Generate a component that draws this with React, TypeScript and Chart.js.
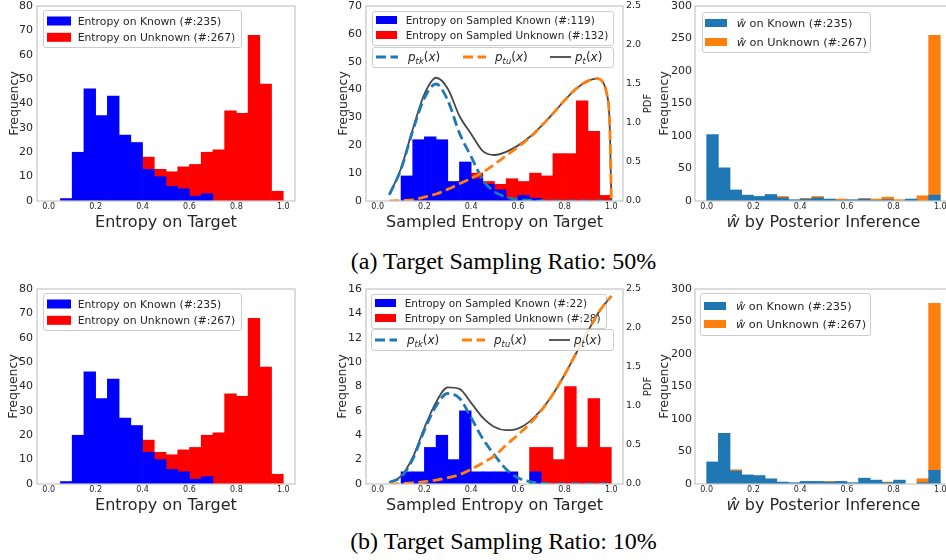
import React, { useEffect, useRef } from 'react';
import { Chart, registerables } from 'chart.js';

Chart.register(...registerables);
Chart.defaults.font.family = '"DejaVu Sans", sans-serif';
Chart.defaults.color = '#262626';

// ---------------- data ----------------
const binCenters = [0.025, 0.075, 0.125, 0.175, 0.225, 0.275, 0.325, 0.375, 0.425, 0.475, 0.525, 0.575, 0.625, 0.675, 0.725, 0.775, 0.825, 0.875, 0.925, 0.975];
const xTickValues = [0, 0.2, 0.4, 0.6, 0.8, 1.0];

// (a) 50%
const entropyKnown = [0, 1, 20, 46, 35, 43, 27, 24, 13, 10, 6, 5, 2, 3, 0, 0, 0, 0, 0, 0];
const entropyUnknown = [0, 0, 0, 0, 0, 0, 0, 0, 5, 3, 6, 9, 13, 17, 21, 37, 36, 68, 48, 4];
const sampledKnown50 = [0, 0, 9, 22, 23, 22, 7, 14, 8, 6, 4, 1, 2, 1, 0, 0, 0, 0, 0, 0];
const sampledUnknown50 = [0, 0, 0, 0, 0, 0, 0, 0, 2, 1, 2, 7, 5, 9, 9, 17, 17, 36, 25, 2];
const wKnown50 = [102, 51, 17, 9, 7, 10, 5, 2, 3, 5, 3, 1, 2, 3, 1, 2, 0, 3, 0, 9];
const wUnknown50 = [0, 0, 0, 0, 0, 0, 2, 0, 1, 2, 0, 2, 0, 1, 2, 4, 2, 0, 8, 246];

const pdfX50 = [0.05, 0.1, 0.15, 0.2, 0.25, 0.3, 0.35, 0.4, 0.45, 0.5, 0.55, 0.6, 0.65, 0.7, 0.75, 0.8, 0.85, 0.9, 0.94, 0.97, 0.98, 0.99, 0.995, 1.0];
const ptk50 = [0.08, 0.41, 0.9, 1.32, 1.5, 1.29, 0.87, 0.57, 0.27, 0.12, 0.05, 0.02, 0.01, 0, 0, 0, 0, 0, 0, 0, 0, 0, 0, 0];
const ptu50 = [0, 0.005, 0.015, 0.05, 0.09, 0.15, 0.22, 0.29, 0.37, 0.47, 0.58, 0.69, 0.81, 0.96, 1.12, 1.29, 1.44, 1.54, 1.57, 1.49, 1.38, 1.17, 0.78, 0];
const pt50 = [0.08, 0.42, 0.92, 1.37, 1.58, 1.44, 1.09, 0.86, 0.64, 0.59, 0.63, 0.71, 0.82, 0.96, 1.12, 1.29, 1.44, 1.54, 1.57, 1.49, 1.38, 1.17, 0.78, 0];

// (b) 10%
const sampledKnown10 = [0, 0, 1, 1, 3, 4, 2, 6, 1, 1, 1, 1, 0, 1, 0, 0, 0, 0, 0, 0];
const sampledUnknown10 = [0, 0, 0, 0, 0, 0, 0, 0, 0, 0, 0, 0, 0, 2, 3, 2, 8, 3, 7, 3];
const wKnown10 = [34, 78, 20, 14, 13, 8, 3, 2, 4, 4, 3, 4, 2, 9, 6, 2, 6, 0, 2, 21];
const wUnknown10 = [0, 0, 2, 0, 0, 0, 0, 0, 0, 0, 1, 0, 0, 0, 0, 1, 0, 0, 6, 257];

const pdfX10 = [0.05, 0.1, 0.15, 0.2, 0.25, 0.3, 0.35, 0.4, 0.45, 0.5, 0.55, 0.6, 0.65, 0.7, 0.75, 0.8, 0.85, 0.9, 0.95, 1.0];
const ptk10 = [0.02, 0.09, 0.32, 0.69, 1.0, 1.16, 1.1, 0.85, 0.58, 0.37, 0.19, 0.08, 0.03, 0.01, 0, 0, 0, 0, 0, 0];
const ptu10 = [0, 0.005, 0.015, 0.03, 0.05, 0.08, 0.12, 0.19, 0.27, 0.36, 0.5, 0.63, 0.77, 0.94, 1.15, 1.4, 1.68, 1.96, 2.22, 2.41];
const pt10 = [0.02, 0.1, 0.34, 0.72, 1.05, 1.24, 1.22, 1.04, 0.85, 0.73, 0.69, 0.71, 0.8, 0.95, 1.15, 1.4, 1.68, 1.96, 2.22, 2.41];

const captionA = '(a) Target Sampling Ratio: 50%';
const captionB = '(b) Target Sampling Ratio: 10%';

// ---------------- styles ----------------
const FONT = '"DejaVu Sans", sans-serif';
const TEXT = '#262626';
const BLUE = '#0000ff';
const RED = '#ff0000';
const TAB_BLUE = '#1f77b4';
const TAB_ORANGE = '#ff7f0e';
const DARK = '#474747';
const SPINE = '#c8c8c8';

type Seg = { t: string; it?: boolean; sub?: boolean };

function segFont(s: Seg, size: number) {
  const sz = s.sub ? size * 0.7 : size;
  return `${s.it ? 'italic ' : ''}${sz}px ${FONT}`;
}
function richWidth(ctx: CanvasRenderingContext2D, segs: Seg[], size: number) {
  let w = 0;
  for (const s of segs) {
    ctx.font = segFont(s, size);
    w += ctx.measureText(s.t).width;
  }
  return w;
}
function drawRich(ctx: CanvasRenderingContext2D, segs: Seg[], x: number, y: number, size: number, align: string) {
  const w = richWidth(ctx, segs, size);
  let cx = align === 'center' ? x - w / 2 : x;
  ctx.textAlign = 'left';
  ctx.textBaseline = 'alphabetic';
  for (const s of segs) {
    ctx.font = segFont(s, size);
    ctx.fillText(s.t, cx, y + (s.sub ? size * 0.22 : 0));
    cx += ctx.measureText(s.t).width;
  }
}

const mathLabel = (sub: string): Seg[] => [
  { t: 'p', it: true },
  { t: sub, it: true, sub: true },
  { t: '(' },
  { t: 'x', it: true },
  { t: ')' },
];
const plain = (t: string): Seg[] => [{ t }];
const what = (rest: string): Seg[] => [{ t: 'ŵ', it: true }, { t: rest }];

function drawLegend(ctx: CanvasRenderingContext2D, ca: any, L: any) {
  const bx = ca.left + L.dx;
  const by = ca.top + L.dy;
  ctx.save();
  ctx.beginPath();
  if ((ctx as any).roundRect) (ctx as any).roundRect(bx + 0.5, by + 0.5, L.w, L.h, 2.5);
  else ctx.rect(bx + 0.5, by + 0.5, L.w, L.h);
  ctx.fillStyle = 'rgba(255,255,255,0.8)';
  ctx.fill();
  ctx.strokeStyle = '#cccccc';
  ctx.lineWidth = 1;
  ctx.stroke();
  for (const it of L.items) {
    const cy = by + L.rows[it.row];
    if (it.kind === 'patch') {
      ctx.fillStyle = it.color;
      ctx.fillRect(bx + it.hx, cy - L.ph / 2, it.hlen, L.ph);
    } else {
      ctx.strokeStyle = it.color;
      ctx.lineWidth = it.width;
      ctx.setLineDash(it.dash || []);
      ctx.beginPath();
      ctx.moveTo(bx + it.hx, cy);
      ctx.lineTo(bx + it.hx + it.hlen, cy);
      ctx.stroke();
      ctx.setLineDash([]);
    }
    ctx.fillStyle = TEXT;
    drawRich(ctx, it.label, bx + it.tx, cy + 0.365 * it.size, it.size, 'left');
  }
  ctx.restore();
}

function makePlugin(spec: any) {
  let legDone = false;
  const drawLayer = (chart: any, layer: string) => {
    for (const L of spec.legends) if (L.layer === layer) drawLegend(chart.ctx, chart.chartArea, L);
  };
  return {
    id: 'mplDecor',
    beforeDatasetsDraw() {
      legDone = false;
    },
    beforeDatasetDraw(chart: any, args: any) {
      if (!legDone && args.meta.type === 'line') {
        drawLayer(chart, 'under');
        legDone = true;
      }
    },
    afterDatasetsDraw(chart: any) {
      const ctx = chart.ctx as CanvasRenderingContext2D;
      const ca = chart.chartArea;
      if (!legDone) {
        drawLayer(chart, 'under');
        legDone = true;
      }
      drawLayer(chart, 'top');
      ctx.save();
      ctx.strokeStyle = SPINE;
      ctx.lineWidth = 1.25;
      ctx.strokeRect(ca.left, ca.top, ca.right - ca.left, ca.bottom - ca.top);
      ctx.fillStyle = TEXT;
      // x title
      drawRich(ctx, spec.xTitle, (ca.left + ca.right) / 2, ca.bottom + 26, 16, 'center');
      // y title
      const yc = (ca.top + ca.bottom) / 2;
      ctx.save();
      ctx.translate(spec.yTitleX + 0.365 * 12.5, yc);
      ctx.rotate(-Math.PI / 2);
      ctx.font = `12.5px ${FONT}`;
      ctx.textAlign = 'center';
      ctx.textBaseline = 'alphabetic';
      ctx.fillText('Frequency', 0, 0);
      ctx.restore();
      if (spec.y2TitleX !== undefined) {
        ctx.save();
        ctx.translate(spec.y2TitleX + 0.365 * 10, yc);
        ctx.rotate(-Math.PI / 2);
        ctx.font = `10px ${FONT}`;
        ctx.textAlign = 'center';
        ctx.textBaseline = 'alphabetic';
        ctx.fillText('PDF', 0, 0);
        ctx.restore();
      }
      ctx.restore();
    },
  };
}

function buildConfig(spec: any) {
  const bars = (vals: number[]) => binCenters.map((x, i) => ({ x, y: vals[i] === 0 ? null : vals[i] }));
  const pts = (xs: number[], ys: number[]) => xs.map((x, i) => ({ x, y: ys[i] }));
  const barCommon = { borderWidth: 0, barPercentage: 1, categoryPercentage: 1, yAxisID: 'y', order: 10, stack: 'hist' };
  const datasets: any[] = [
    { type: 'bar', label: 'known', data: bars(spec.known), backgroundColor: spec.cKnown, ...barCommon },
    { type: 'bar', label: 'unknown', data: bars(spec.unknown), backgroundColor: spec.cUnknown, ...barCommon },
  ];
  if (spec.curves) {
    const c = spec.curves;
    datasets.push(
      { type: 'line', label: 'pt', data: pts(c.x, c.t), borderColor: DARK, borderWidth: 1.8, pointRadius: 0, fill: false, cubicInterpolationMode: 'monotone', yAxisID: 'y2', order: 5 },
      { type: 'line', label: 'ptk', data: pts(c.x, c.tk), borderColor: TAB_BLUE, borderWidth: 2.8, borderDash: [10, 4.5], pointRadius: 0, fill: false, cubicInterpolationMode: 'monotone', yAxisID: 'y2', order: 2 },
      { type: 'line', label: 'ptu', data: pts(c.x, c.tu), borderColor: TAB_ORANGE, borderWidth: 2.8, borderDash: [10, 4.5], pointRadius: 0, fill: false, cubicInterpolationMode: 'monotone', yAxisID: 'y2', order: 1 }
    );
  }
  const scales: any = {
    x: {
      type: 'linear',
      stacked: true,
      min: -0.05,
      max: 1.05,
      offset: false,
      grid: { display: false, drawTicks: false },
      border: { display: false },
      ticks: { font: { size: 8 }, color: TEXT, padding: 1.5, autoSkip: false, maxRotation: 0, callback: (v: any) => Number(v).toFixed(1) },
      afterBuildTicks: (s: any) => {
        s.ticks = xTickValues.map((v) => ({ value: v }));
      },
      afterFit: (s: any) => {
        s.height = spec.xH;
        s.paddingLeft = 0;
        s.paddingRight = 0;
      },
    },
    y: {
      type: 'linear',
      stacked: true,
      min: 0,
      max: spec.yMax,
      grid: { display: false, drawTicks: false },
      border: { display: false },
      ticks: { stepSize: spec.yStep, font: { size: 11 }, color: TEXT, padding: spec.yPad },
      afterFit: (s: any) => {
        s.width = spec.yW;
        s.paddingTop = 0;
        s.paddingBottom = 0;
      },
    },
  };
  if (spec.curves) {
    scales.y2 = {
      type: 'linear',
      position: 'right',
      stacked: false,
      min: 0,
      max: 2.5,
      grid: { display: false, drawTicks: false },
      border: { display: false },
      ticks: { stepSize: 0.5, font: { size: 9.5 }, color: TEXT, padding: 3, callback: (v: any) => Number(v).toFixed(1) },
      afterFit: (s: any) => {
        s.width = spec.y2W;
        s.paddingTop = 0;
        s.paddingBottom = 0;
      },
    };
  }
  return {
    type: 'bar',
    data: { datasets },
    options: {
      responsive: false,
      animation: false,
      devicePixelRatio: 1,
      layout: { padding: { top: spec.padTop, right: spec.padRight, left: 0, bottom: 0 } },
      plugins: { legend: { display: false }, tooltip: { enabled: false } },
      scales,
      events: [],
    },
    plugins: [makePlugin(spec)],
  } as any;
}

// ---------------- legends ----------------
const legendEntropy = {
  dx: 6, dy: 4, w: 198, h: 37, rows: [11, 27.3], ph: 9, layer: 'top',
  items: [
    { kind: 'patch', color: BLUE, hx: 4, hlen: 24, tx: 34.7, row: 0, size: 10.8, label: plain('Entropy on Known (#:235)') },
    { kind: 'patch', color: RED, hx: 4, hlen: 24, tx: 34.7, row: 1, size: 10.8, label: plain('Entropy on Unknown (#:267)') },
  ],
};
const sampledLegend = (dx: number, dy: number, w: number, nk: string, nu: string) => ({
  dx, dy, w, h: 34, rows: [9, 24], ph: 8, layer: 'under',
  items: [
    { kind: 'patch', color: BLUE, hx: 4, hlen: 21, tx: 33.7, row: 0, size: 10.5, label: plain(`Entropy on Sampled Known (#:${nk})`) },
    { kind: 'patch', color: RED, hx: 4, hlen: 21, tx: 33.7, row: 1, size: 10.5, label: plain(`Entropy on Sampled Unknown (#:${nu})`) },
  ],
});
const pdfLegend = (dx: number, dy: number, w: number, h: number, row: number) => ({
  dx, dy, w, h, rows: [row], ph: 8, layer: 'top',
  items: [
    { kind: 'line', color: TAB_BLUE, width: 2.8, dash: [10, 4.5], hx: 4, hlen: 22, tx: 36, row: 0, size: 12, label: mathLabel('tk') },
    { kind: 'line', color: TAB_ORANGE, width: 2.8, dash: [10, 4.5], hx: 91, hlen: 23, tx: 123, row: 0, size: 12, label: mathLabel('tu') },
    { kind: 'line', color: DARK, width: 1.8, hx: 178, hlen: 21, tx: 203, row: 0, size: 12, label: mathLabel('t') },
  ],
});
const wLegend = (dx: number, dy: number, w: number, h: number, rows: number[], hx: number, tx: number) => ({
  dx, dy, w, h, rows, ph: 8, layer: 'top',
  items: [
    { kind: 'patch', color: TAB_BLUE, hx, hlen: 22, tx, row: 0, size: 11.3, label: what(' on Known (#:235)') },
    { kind: 'patch', color: TAB_ORANGE, hx, hlen: 22, tx, row: 1, size: 11.3, label: what(' on Unknown (#:267)') },
  ],
});

const entropyTitle = plain('Entropy on Target');
const sampledTitle = plain('Sampled Entropy on Target');
const wTitle = what(' by Posterior Inference');

const panels: any[] = [
  { key: 'p1', left: 0, top: 0, width: 300, height: 235, yW: 37, padTop: 6, padRight: 5, xH: 34, yPad: 4, yMax: 80, yStep: 10,
    known: entropyKnown, unknown: entropyUnknown, cKnown: BLUE, cUnknown: RED, xTitle: entropyTitle, yTitleX: 13, legends: [legendEntropy] },
  { key: 'p2', left: 300, top: 0, width: 360, height: 235, yW: 66, y2W: 37, padTop: 6, padRight: 0, xH: 34, yPad: 4, yMax: 70, yStep: 10,
    known: sampledKnown50, unknown: sampledUnknown50, cKnown: BLUE, cUnknown: RED,
    curves: { x: pdfX50, tk: ptk50, tu: ptu50, t: pt50 },
    xTitle: sampledTitle, yTitleX: 42, y2TitleX: 347,
    legends: [sampledLegend(6, 5, 241, '119', '132'), pdfLegend(6, 41, 241, 20, 10)] },
  { key: 'p3', left: 650, top: 0, width: 310, height: 235, yW: 45, padTop: 6, padRight: 8, xH: 34, yPad: 3, yMax: 300, yStep: 50,
    known: wKnown50, unknown: wUnknown50, cKnown: TAB_BLUE, cUnknown: TAB_ORANGE, xTitle: wTitle, yTitleX: 13,
    legends: [wLegend(7, 6, 168, 40, [11, 30], 3, 34.7)] },
  { key: 'p4', left: 0, top: 283, width: 300, height: 235, yW: 37, padTop: 6, padRight: 5, xH: 34, yPad: 4, yMax: 80, yStep: 10,
    known: entropyKnown, unknown: entropyUnknown, cKnown: BLUE, cUnknown: RED, xTitle: entropyTitle, yTitleX: 12.5, legends: [legendEntropy] },
  { key: 'p5', left: 300, top: 283, width: 360, height: 235, yW: 66, y2W: 37, padTop: 6, padRight: 0, xH: 34, yPad: 4, yMax: 16, yStep: 2,
    known: sampledKnown10, unknown: sampledUnknown10, cKnown: BLUE, cUnknown: RED,
    curves: { x: pdfX10, tk: ptk10, tu: ptu10, t: pt10 },
    xTitle: sampledTitle, yTitleX: 41, y2TitleX: 347,
    legends: [sampledLegend(5, 5, 235, '22', '28'), pdfLegend(5, 40, 242, 21, 11)] },
  { key: 'p6', left: 650, top: 283, width: 310, height: 235, yW: 45, padTop: 6, padRight: 8, xH: 34, yPad: 3, yMax: 300, yStep: 50,
    known: wKnown10, unknown: wUnknown10, cKnown: TAB_BLUE, cUnknown: TAB_ORANGE, xTitle: wTitle, yTitleX: 13,
    legends: [wLegend(5, 4, 170, 42, [13, 31], 4, 36)] },
];

function Panel({ spec }: { spec: any }) {
  const ref = useRef<HTMLCanvasElement>(null);
  useEffect(() => {
    const chart = new Chart(ref.current as HTMLCanvasElement, buildConfig(spec));
    return () => chart.destroy();
  }, [spec]);
  return (
    <canvas
      ref={ref}
      width={spec.width}
      height={spec.height}
      style={{ position: 'absolute', left: spec.left, top: spec.top, width: spec.width, height: spec.height }}
    />
  );
}

const captionStyle: React.CSSProperties = {
  position: 'absolute',
  left: 203.5,
  width: 600,
  textAlign: 'center',
  fontFamily: '"Liberation Serif", "Times New Roman", serif',
  fontSize: 24,
  lineHeight: '24px',
  color: '#000',
  whiteSpace: 'nowrap',
};

export default function App() {
  return (
    <div style={{ position: 'absolute', left: 0, top: 0, width: 946, height: 560, overflow: 'hidden', background: '#fff' }}>
      {panels.map((p) => (
        <Panel key={p.key} spec={p} />
      ))}
      <div style={{ ...captionStyle, top: 249.4 }}>{captionA}</div>
      <div style={{ ...captionStyle, top: 529.4 }}>{captionB}</div>
    </div>
  );
}
